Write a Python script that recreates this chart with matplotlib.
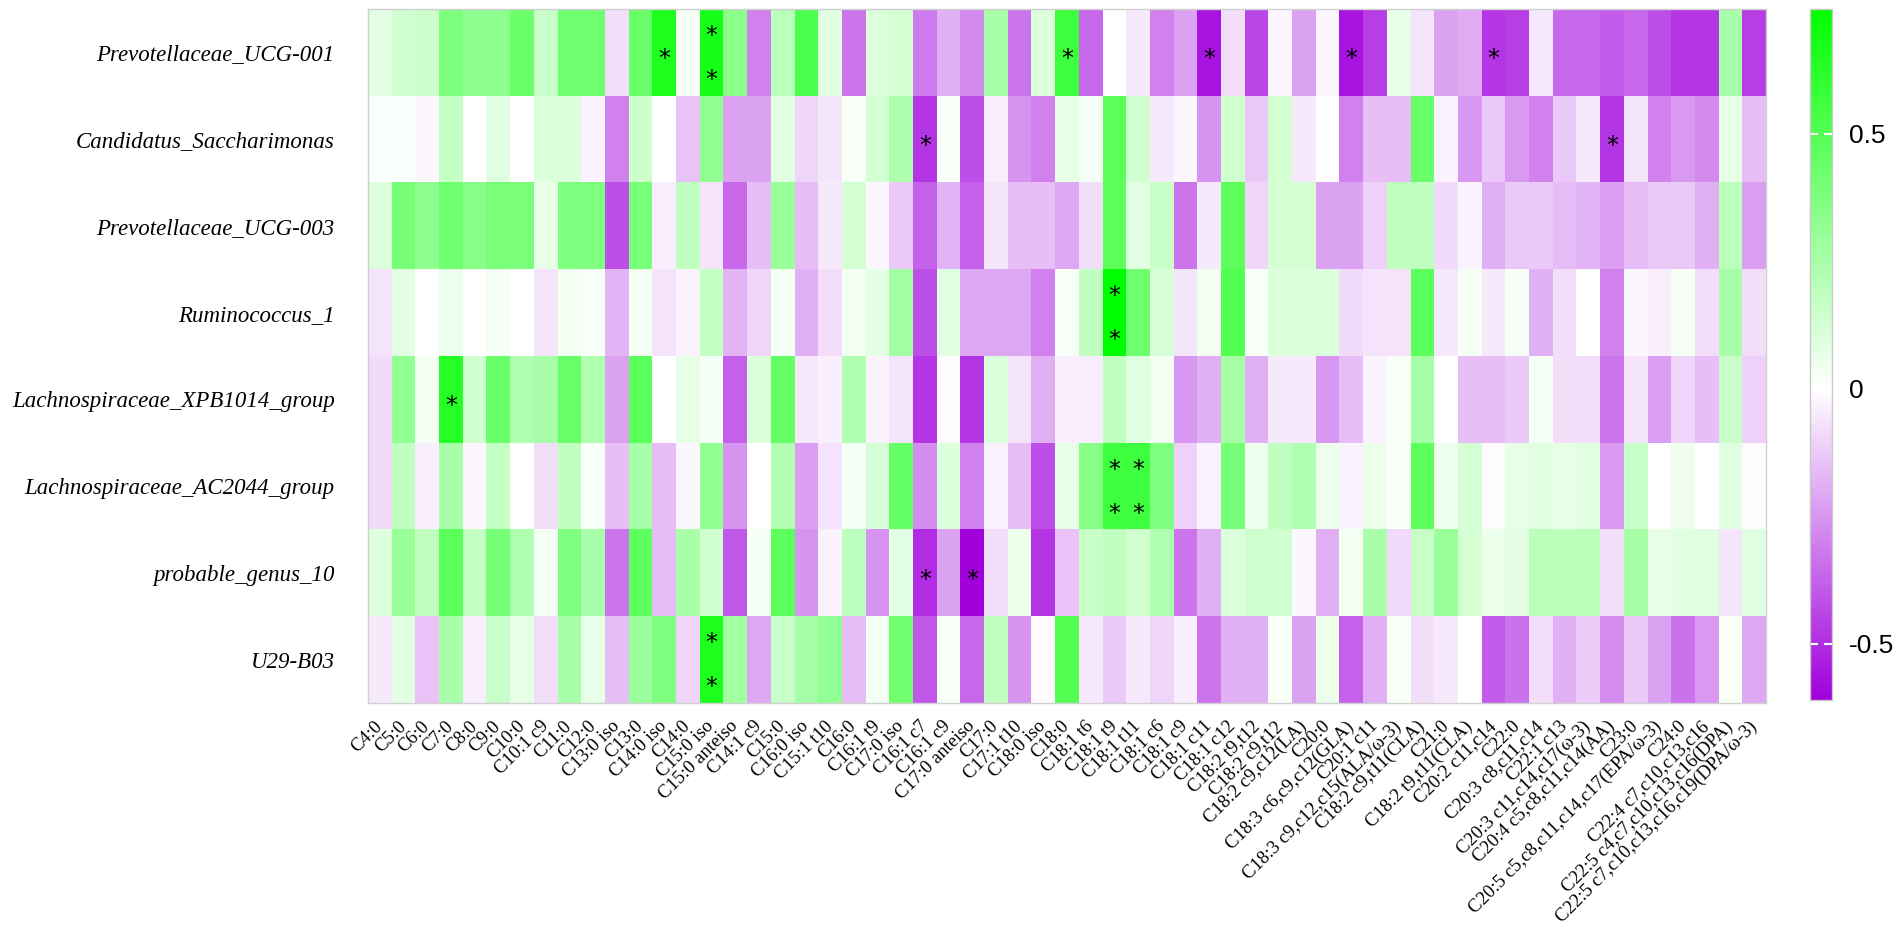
import matplotlib
matplotlib.use("Agg")
import matplotlib.pyplot as plt
import numpy as np
from matplotlib.colors import LinearSegmentedColormap, Normalize

genera = ["Prevotellaceae_UCG-001", "Candidatus_Saccharimonas", "Prevotellaceae_UCG-003",
          "Ruminococcus_1", "Lachnospiraceae_XPB1014_group", "Lachnospiraceae_AC2044_group",
          "probable_genus_10", "U29-B03"]

fatty_acids = ["C4:0", "C5:0", "C6:0", "C7:0", "C8:0", "C9:0", "C10:0", "C10:1 c9", "C11:0", "C12:0",
               "C13:0 iso", "C13:0", "C14:0 iso", "C14:0", "C15:0 iso", "C15:0 anteiso", "C14:1 c9",
               "C15:0", "C16:0 iso", "C15:1 t10", "C16:0", "C16:1 t9", "C17:0 iso", "C16:1 c7",
               "C16:1 c9", "C17:0 anteiso", "C17:0", "C17:1 t10", "C18:0 iso", "C18:0", "C18:1 t6",
               "C18:1 t9", "C18:1 t11", "C18:1 c6", "C18:1 c9", "C18:1 c11", "C18:1 c12",
               "C18:2 t9,t12", "C18:2 c9,t12", "C18:2 c9,c12(LA)", "C20:0", "C18:3 c6,c9,c12(GLA)",
               "C20:1 c11", "C18:3 c9,c12,c15(ALA/\u03c9-3)", "C18:2 c9,t11(CLA)", "C21:0",
               "C18:2 t9,t11(CLA)", "C20:2 c11,c14", "C22:0", "C20:3 c8,c11,c14", "C22:1 c13",
               "C20:3 c11,c14,c17(\u03c9-3)", "C20:4 c5,c8,c11,c14(AA)", "C23:0",
               "C20:5 c5,c8,c11,c14,c17(EPA/\u03c9-3)", "C24:0", "C22:4 c7,c10,c13,c16",
               "C22:5 c4,c7,c10,c13,c16(DPA)", "C22:5 c7,c10,c13,c16,c19(DPA/\u03c9-3)"]

prevotellaceae_ucg001 = [0.08, 0.14, 0.15, 0.38, 0.33, 0.33, 0.43, 0.16, 0.42, 0.42, -0.08, 0.44, 0.66, 0.03, 0.68,
                         0.34, -0.30, 0.20, 0.52, 0.09, -0.33, 0.10, 0.13, -0.31, -0.19, -0.28, 0.25, -0.33, 0.10, 0.56,
                         -0.36, 0.00, -0.05, -0.30, -0.22, -0.56, -0.08, -0.44, -0.02, -0.22, -0.02, -0.56, -0.46, 0.07, -0.07,
                         -0.22, -0.20, -0.48, -0.46, -0.05, -0.36, -0.36, -0.39, -0.36, -0.42, -0.48, -0.48, 0.25, -0.46]
candidatus_saccharimonas = [0.01, 0.01, -0.02, 0.17, 0.00, 0.09, 0.00, 0.10, 0.10, -0.03, -0.30, 0.15, 0.00, -0.14, 0.32,
                            -0.22, -0.22, 0.08, -0.10, -0.06, 0.02, 0.13, 0.24, -0.48, 0.02, -0.42, -0.04, -0.26, -0.30, 0.07,
                            0.03, 0.48, 0.14, -0.05, -0.02, -0.26, 0.14, -0.13, 0.13, -0.05, 0.00, -0.30, -0.15, -0.15, 0.44,
                            -0.03, -0.25, -0.13, -0.24, -0.30, -0.13, -0.05, -0.48, -0.06, -0.30, -0.24, -0.28, 0.07, -0.16]
prevotellaceae_ucg003 = [0.10, 0.40, 0.33, 0.42, 0.35, 0.39, 0.39, 0.07, 0.37, 0.37, -0.42, 0.39, -0.04, 0.18, -0.07,
                         -0.36, -0.16, 0.30, -0.16, -0.05, 0.13, -0.02, -0.13, -0.38, -0.18, -0.38, -0.06, -0.16, -0.15, -0.21,
                         -0.08, 0.47, 0.08, 0.16, -0.33, -0.05, 0.47, -0.10, 0.13, 0.13, -0.22, -0.22, -0.11, 0.18, 0.18,
                         -0.09, -0.03, -0.19, -0.13, -0.13, -0.16, -0.18, -0.23, -0.16, -0.13, -0.13, -0.19, 0.20, -0.23]
ruminococcus_1 = [-0.07, 0.08, 0.00, 0.06, 0.00, 0.03, 0.00, -0.06, 0.04, 0.02, -0.18, 0.04, -0.07, -0.03, 0.17,
                  -0.18, -0.10, 0.03, -0.19, -0.08, 0.04, 0.08, 0.27, -0.42, 0.09, -0.21, -0.21, -0.21, -0.30, 0.02,
                  0.18, 0.74, 0.42, 0.12, -0.06, 0.04, 0.50, 0.02, 0.10, 0.10, 0.10, -0.09, -0.07, -0.07, 0.48,
                  -0.05, 0.03, -0.05, 0.03, -0.19, -0.08, 0.00, -0.30, -0.02, -0.04, 0.03, -0.08, 0.25, -0.08]
lachno_xpb1014 = [-0.09, 0.32, 0.04, 0.63, 0.14, 0.44, 0.23, 0.25, 0.44, 0.23, -0.22, 0.48, 0.00, 0.07, 0.03,
                  -0.38, 0.10, 0.45, -0.05, -0.04, 0.23, -0.03, -0.06, -0.48, -0.01, -0.48, 0.10, -0.06, -0.19, -0.04,
                  -0.04, 0.18, 0.09, 0.04, -0.25, -0.19, 0.26, -0.19, -0.05, -0.05, -0.25, -0.16, -0.03, 0.02, 0.26,
                  0.00, -0.15, -0.15, -0.13, 0.03, -0.08, -0.08, -0.33, -0.06, -0.23, -0.10, -0.15, 0.16, -0.11]
lachno_ac2044 = [-0.09, 0.18, -0.04, 0.25, -0.02, 0.17, 0.00, -0.08, 0.18, 0.02, -0.15, 0.25, -0.15, -0.02, 0.32,
                 -0.26, 0.00, 0.22, -0.23, -0.07, 0.03, 0.12, 0.45, -0.27, 0.10, -0.30, -0.03, -0.15, -0.42, 0.07,
                 0.35, 0.56, 0.56, 0.37, -0.11, -0.03, 0.40, 0.05, 0.18, 0.23, 0.06, -0.03, 0.06, 0.02, 0.47,
                 0.05, 0.13, -0.01, 0.07, 0.09, 0.07, 0.09, -0.24, 0.16, 0.00, 0.05, 0.00, 0.09, -0.01]
probable_genus_10 = [0.10, 0.30, 0.18, 0.48, 0.17, 0.40, 0.23, 0.03, 0.37, 0.25, -0.33, 0.47, -0.16, 0.25, 0.14,
                     -0.40, 0.03, 0.47, -0.26, -0.03, 0.19, -0.26, 0.08, -0.50, -0.22, -0.60, -0.08, 0.06, -0.48, -0.14,
                     0.16, 0.18, 0.14, 0.23, -0.33, -0.19, 0.10, 0.14, 0.14, -0.02, -0.19, 0.04, 0.25, -0.09, 0.16,
                     0.30, 0.13, 0.06, 0.08, 0.20, 0.20, 0.20, -0.08, 0.26, 0.07, 0.09, 0.09, -0.06, 0.09]
u29_b03 = [-0.05, 0.08, -0.14, 0.25, -0.04, 0.16, 0.07, -0.08, 0.25, 0.07, -0.15, 0.29, 0.37, -0.10, 0.66,
           0.27, -0.21, 0.16, 0.26, 0.32, -0.16, 0.04, 0.42, -0.40, 0.02, -0.36, 0.18, -0.26, -0.01, 0.50,
           -0.05, -0.13, -0.05, -0.10, -0.04, -0.33, -0.19, -0.19, 0.02, -0.22, 0.06, -0.38, -0.19, 0.02, -0.08,
           -0.05, 0.00, -0.39, -0.34, -0.08, -0.19, -0.12, -0.27, -0.13, -0.22, -0.34, -0.24, 0.02, -0.21]

# significance marks: row index, column index, number of stars
star_rows = [0, 0, 0, 0, 0, 0, 1, 1, 3, 4, 5, 5, 6, 6, 7]
star_cols = [12, 14, 29, 35, 41, 47, 23, 52, 31, 3, 31, 32, 23, 25, 14]
star_counts = [1, 2, 1, 1, 1, 1, 1, 1, 2, 1, 2, 2, 1, 1, 2]

cbar_ticks = [-0.5, 0, 0.5]
vmin, vmax = -0.61, 0.745

corr = np.array([prevotellaceae_ucg001, candidatus_saccharimonas, prevotellaceae_ucg003, ruminococcus_1,
                 lachno_xpb1014, lachno_ac2044, probable_genus_10, u29_b03])

mid = -vmin / (vmax - vmin)
cmap = LinearSegmentedColormap.from_list("pg", [(0, "#a000dc"), (mid, "#ffffff"), (1, "#00ff00")])

W, H = 1902, 930
fig = plt.figure(figsize=(W / 100, H / 100), dpi=100)
ax = fig.add_axes([368 / W, 1 - 703 / H, (1766 - 368) / W, (703 - 9) / H])
cax = fig.add_axes([1810 / W, 1 - 700 / H, 22 / W, (700 - 9) / H])

mesh = ax.pcolormesh(corr, cmap=cmap, norm=Normalize(vmin, vmax))
ax.set_xlim(0, len(fatty_acids))
ax.set_ylim(len(genera), 0)

for r, c, n in zip(star_rows, star_cols, star_counts):
    offs = [0.0] if n == 1 else [-0.27, 0.24]
    for o in offs:
        ax.text(c + 0.5, r + 0.5 + o + 0.08, "*", ha="center", va="center", fontsize=17, color="black")

ax.set_xticks(np.arange(len(fatty_acids)) + 0.5)
ax.set_xticklabels(fatty_acids, rotation=45, ha="right", va="center", rotation_mode="anchor",
                   family="Liberation Serif", fontsize=13.5)
ax.set_yticks(np.arange(len(genera)) + 0.5)
ax.set_yticklabels(genera, family="Liberation Serif", style="italic", fontsize=16.5)
ax.tick_params(axis="x", length=0, pad=15)
ax.tick_params(axis="y", length=0, pad=24)
for s in ax.spines.values():
    s.set_color("#d0d0d0")
    s.set_linewidth(1)

cb = fig.colorbar(mesh, cax=cax, ticks=cbar_ticks)
cb.ax.set_yticklabels(["-0.5", "0", "0.5"], family="Liberation Sans", fontsize=19)
cb.ax.tick_params(axis="y", color="white", direction="in", length=6, width=1.5, left=True, right=True, pad=12)
cb.outline.set_edgecolor("#c8c8c8")
cb.outline.set_linewidth(1)

fig.savefig("out.png", dpi=100, facecolor="white")
